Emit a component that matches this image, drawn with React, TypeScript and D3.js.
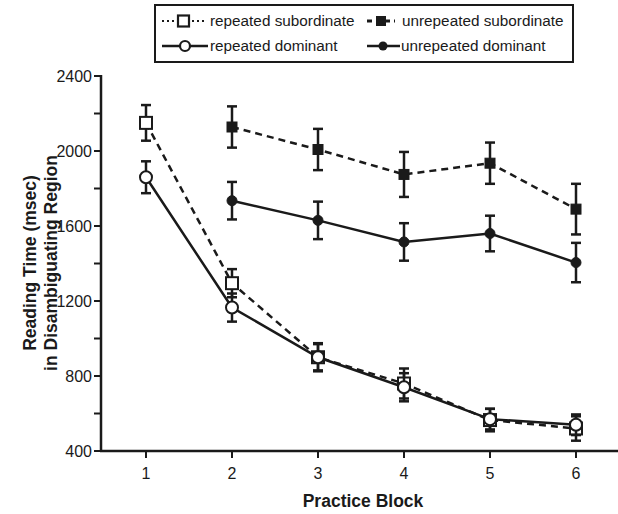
import React from 'react';
import * as d3 from 'd3';

const blocks = [1, 2, 3, 4, 5, 6];
const yTicks = [400, 800, 1200, 1600, 2000, 2400];
const yMinorTicks = [600, 1000, 1400, 1800, 2200];

const repSubMean = [2150, 1295, 900, 760, 565, 520];
const repSubErr = [95, 75, 75, 80, 60, 65];
const repDomMean = [1860, 1165, 900, 740, 570, 540];
const repDomErr = [85, 75, 70, 75, 55, 55];
const unrepSubBlocks = [2, 3, 4, 5, 6];
const unrepSubMean = [2128, 2008, 1875, 1935, 1690];
const unrepSubErr = [110, 110, 120, 110, 135];
const unrepDomBlocks = [2, 3, 4, 5, 6];
const unrepDomMean = [1735, 1630, 1515, 1560, 1405];
const unrepDomErr = [100, 100, 100, 95, 105];

type Series = {
  name: string;
  xs: number[];
  means: number[];
  errs: number[];
  marker: 'square' | 'circle';
  filled: boolean;
  dash: string;
};

const series: Series[] = [
  { name: 'repeated subordinate', xs: blocks, means: repSubMean, errs: repSubErr, marker: 'square', filled: false, dash: '7,5' },
  { name: 'unrepeated subordinate', xs: unrepSubBlocks, means: unrepSubMean, errs: unrepSubErr, marker: 'square', filled: true, dash: '7,5' },
  { name: 'repeated dominant', xs: blocks, means: repDomMean, errs: repDomErr, marker: 'circle', filled: false, dash: '' },
  { name: 'unrepeated dominant', xs: unrepDomBlocks, means: unrepDomMean, errs: unrepDomErr, marker: 'circle', filled: true, dash: '' },
];

const font = 'Liberation Sans, Arial, sans-serif';

function Marker({ x, y, s }: { x: number; y: number; s: Series }) {
  if (s.marker === 'square') {
    const h = s.filled ? 5 : 6;
    return (
      <rect x={x - h} y={y - h} width={h * 2} height={h * 2}
        fill={s.filled ? '#1a1a1a' : '#fff'} stroke="#1a1a1a" strokeWidth={s.filled ? 1 : 2} />
    );
  }
  return (
    <circle cx={x} cy={y} r={s.filled ? 5 : 6}
      fill={s.filled ? '#1a1a1a' : '#fff'} stroke="#1a1a1a" strokeWidth={s.filled ? 1 : 2} />
  );
}

export default function App() {
  const width = 618;
  const height = 514;
  const left = 101;
  const bottom = 451;
  const top = 76;

  const x = d3.scaleLinear().domain([0.5, 6.5]).range([left + 2, 619]);
  const y = d3.scaleLinear().domain([400, 2400]).range([bottom, top]);

  const line = d3.line<[number, number]>().x(d => x(d[0])).y(d => y(d[1]));

  const ink = '#1a1a1a';

  return (
    <svg width={width} height={height} style={{ position: 'absolute', left: 0, top: 0 }}>
      <rect width={width} height={height} fill="#fff" />

      {/* legend */}
      <g fontFamily={font} fontSize={15.3} fill={ink}>
        <rect x={155} y={5} width={418} height={57} fill="none" stroke={ink} strokeWidth={2} />
        <line x1={162} x2={207} y1={21} y2={21} stroke={ink} strokeWidth={2} strokeDasharray="2,3" />
        <rect x={178} y={15.5} width={11} height={11} fill="#fff" stroke={ink} strokeWidth={2.2} />
        <text x={210} y={26}>repeated subordinate</text>
        <line x1={367} x2={395} y1={21} y2={21} stroke={ink} strokeWidth={3} strokeDasharray="5,4" />
        <rect x={376} y={16} width={10} height={10} fill={ink} />
        <text x={402} y={26}>unrepeated subordinate</text>
        <line x1={162} x2={208} y1={46} y2={46} stroke={ink} strokeWidth={2.5} />
        <circle cx={185} cy={46} r={5} fill="#fff" stroke={ink} strokeWidth={2.2} />
        <text x={210} y={51}>repeated dominant</text>
        <line x1={367} x2={400} y1={46} y2={46} stroke={ink} strokeWidth={2.5} />
        <circle cx={383} cy={46} r={4.5} fill={ink} />
        <text x={401} y={51}>unrepeated dominant</text>
      </g>

      {/* axes */}
      <g stroke={ink} strokeWidth={2.5}>
        <line x1={left} x2={left} y1={top - 1} y2={bottom + 1} />
        <line x1={left - 1} x2={619} y1={bottom} y2={bottom} />
        {yTicks.concat(yMinorTicks).map(t => (
          <line key={`yt${t}`} x1={left - 7} x2={left} y1={y(t)} y2={y(t)} strokeWidth={2} />
        ))}
        {blocks.map(b => (
          <line key={`xt${b}`} x1={x(b)} x2={x(b)} y1={bottom} y2={bottom + 7} strokeWidth={2} />
        ))}
      </g>
      <g fontFamily={font} fontSize={16} fill={ink}>
        {yTicks.map(t => (
          <text key={`yl${t}`} x={left - 9} y={y(t) + 6} textAnchor="end">{t}</text>
        ))}
        {blocks.map(b => (
          <text key={`xl${b}`} x={x(b)} y={bottom + 28} textAnchor="middle">{b}</text>
        ))}
      </g>
      <g fontFamily={font} fontSize={17.5} fontWeight="bold" fill={ink}>
        <text x={363} y={507} textAnchor="middle">Practice Block</text>
        <text transform="translate(36,263) rotate(-90)" textAnchor="middle">Reading Time (msec)</text>
        <text transform="translate(57,263) rotate(-90)" textAnchor="middle">in Disambiguating Region</text>
      </g>

      {/* series */}
      {series.map(s => {
        const pts: [number, number][] = s.xs.map((b, i) => [b, s.means[i]]);
        return (
          <g key={s.name}>
            <path d={line(pts) || ''} fill="none" stroke={ink} strokeWidth={2.5}
              strokeDasharray={s.dash || undefined} />
            {pts.map((p, i) => {
              const cx = x(p[0]);
              const hi = y(p[1] + s.errs[i]);
              const lo = y(p[1] - s.errs[i]);
              return (
                <g key={i} stroke={ink} strokeWidth={2.5}>
                  <line x1={cx} x2={cx} y1={hi} y2={lo} />
                  <line x1={cx - 5} x2={cx + 5} y1={hi} y2={hi} />
                  <line x1={cx - 5} x2={cx + 5} y1={lo} y2={lo} />
                </g>
              );
            })}
            {pts.map((p, i) => (
              <Marker key={`m${i}`} x={x(p[0])} y={y(p[1])} s={s} />
            ))}
          </g>
        );
      })}
    </svg>
  );
}
